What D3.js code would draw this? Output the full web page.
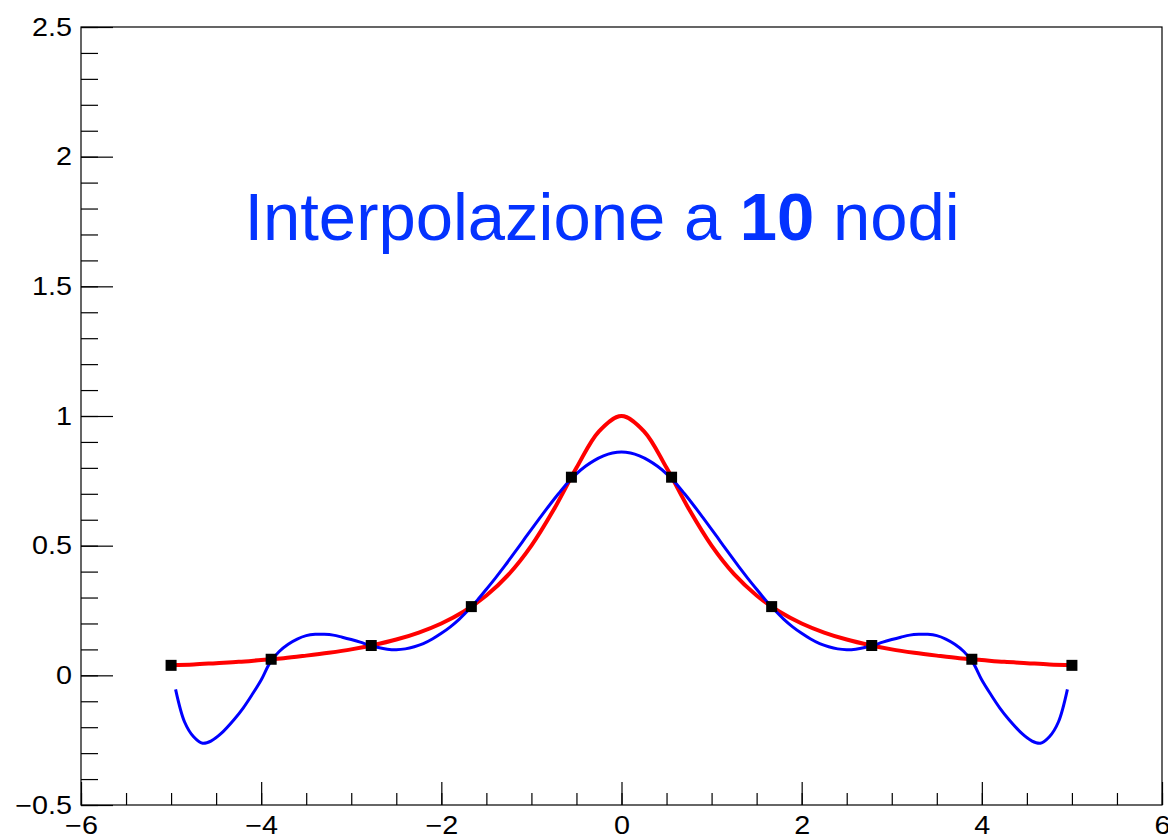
<!DOCTYPE html>
<html>
<head>
<meta charset="utf-8">
<script src="https://cdn.jsdelivr.net/npm/d3@7"></script>
<style>
	body { margin: 0; background: #fff; }
	svg { display: block; }
	.tick text { font-family: "Liberation Sans", Arial, sans-serif; font-size: 25px; fill: #000; }
</style>
</head>
<body>
<script>
// nodes (black squares)
var nodeX = [-5, -3.889, -2.778, -1.667, -0.556, 0.556, 1.667, 2.778, 3.889, 5];
var nodeY = [0.0385, 0.062, 0.115, 0.265, 0.764, 0.764, 0.265, 0.115, 0.062, 0.0385];

// red curve, read every 0.25
var redX = [-5, -4.75, -4.5, -4.25, -4, -3.75, -3.5, -3.25, -3, -2.75, -2.5, -2.25, -2, -1.75, -1.5, -1.25, -1, -0.75, -0.5, -0.25, 0,
	0.25, 0.5, 0.75, 1, 1.25, 1.5, 1.75, 2, 2.25, 2.5, 2.75, 3, 3.25, 3.5, 3.75, 4, 4.25, 4.5, 4.75, 5];
var redY = [0.039, 0.042, 0.047, 0.052, 0.059, 0.066, 0.076, 0.087, 0.100, 0.117, 0.138, 0.165, 0.200, 0.246, 0.308, 0.390, 0.500, 0.640, 0.800, 0.941, 1.000,
	0.941, 0.800, 0.640, 0.500, 0.390, 0.308, 0.246, 0.200, 0.165, 0.138, 0.117, 0.100, 0.087, 0.076, 0.066, 0.059, 0.052, 0.047, 0.042, 0.039];

// blue curve (interpolation); the plot is symmetric
var blueX = [-4.95, -4.85, -4.75, -4.65, -4.55, -4.45, -4.3, -4.2, -4.1, -4.0, -3.9, -3.8, -3.7, -3.6, -3.5, -3.4, -3.3, -3.2, -3.1, -3.0,
	-2.9, -2.8, -2.7, -2.6, -2.5, -2.4, -2.3, -2.2, -2.1, -2.0, -1.9, -1.8, -1.7, -1.6, -1.5, -1.4, -1.3, -1.2, -1.1, -1.0,
	-0.9, -0.8, -0.7, -0.6, -0.5, -0.4, -0.3, -0.2, -0.1, 0,
	0.1, 0.2, 0.3, 0.4, 0.5, 0.6, 0.7, 0.8, 0.9, 1.0, 1.1, 1.2, 1.3, 1.4, 1.5, 1.6, 1.7, 1.8, 1.9, 2.0,
	2.1, 2.2, 2.3, 2.4, 2.5, 2.6, 2.7, 2.8, 2.9, 3.0, 3.1, 3.2, 3.3, 3.4, 3.5, 3.6, 3.7, 3.8, 3.9, 4.0,
	4.1, 4.2, 4.3, 4.45, 4.55, 4.65, 4.75, 4.85, 4.95];
var blueY = [-0.054, -0.18, -0.237, -0.262, -0.252, -0.226, -0.170, -0.126, -0.074, -0.018, 0.050, 0.092, 0.120, 0.140, 0.153, 0.158, 0.158, 0.155, 0.147, 0.138,
	0.128, 0.116, 0.107, 0.101, 0.099, 0.102, 0.110, 0.122, 0.140, 0.162, 0.187, 0.217, 0.252, 0.290, 0.332, 0.375, 0.420, 0.467, 0.515, 0.563,
	0.610, 0.656, 0.700, 0.742, 0.777, 0.806, 0.829, 0.846, 0.857, 0.861,
	0.857, 0.846, 0.829, 0.806, 0.777, 0.742, 0.700, 0.656, 0.610, 0.563, 0.515, 0.467, 0.420, 0.375, 0.332, 0.290, 0.252, 0.217, 0.187, 0.162,
	0.140, 0.122, 0.110, 0.102, 0.099, 0.101, 0.107, 0.116, 0.128, 0.138, 0.147, 0.155, 0.158, 0.158, 0.153, 0.140, 0.120, 0.092, 0.050, -0.018,
	-0.074, -0.126, -0.170, -0.226, -0.252, -0.262, -0.237, -0.18, -0.054];

var xTicks = [-6, -4, -2, 0, 2, 4, 6];
var yTicks = [-0.5, 0, 0.5, 1, 1.5, 2, 2.5];
var titleParts = [{t: "Interpolazione a ", b: false}, {t: "10", b: true}, {t: " nodi", b: false}];

var device = { width: 1168, height: 840 };

var plot = {
	svg: null,
	left: 81, right: 1162, top: 27, bottom: 805,

	init: function () {
		this.svg = d3.select("body").append("svg")
			.attr("width", device.width)
			.attr("height", device.height);

		this.x = d3.scaleLinear().domain([-6, 6]).range([this.left, this.right]);
		this.y = d3.scaleLinear().domain([-0.5, 2.5]).range([this.bottom, this.top]);

		this.axes();
		this.curve(redX, redY, "#ff0000", 4);
		this.curve(blueX, blueY, "#0000ff", 3);
		this.nodes();
		this.title();
	},

	axes: function () {
		var fmt = function (d) { return d3.format("~g")(d); };

		// minor ticks first, majors on top
		this.svg.append("g")
			.attr("transform", "translate(" + this.left + ",0)")
			.call(d3.axisLeft(this.y).tickValues(d3.range(-0.5, 2.51, 0.1)).tickSize(-17).tickFormat(""))
			.call(function (g) { g.select(".domain").remove(); });
		this.svg.append("g")
			.attr("transform", "translate(" + this.left + ",0)")
			.call(d3.axisLeft(this.y).tickValues(yTicks).tickSize(-32).tickPadding(9).tickFormat(fmt))
			.call(function (g) { g.select(".domain").remove(); });

		this.svg.append("g")
			.attr("transform", "translate(0," + this.bottom + ")")
			.call(d3.axisBottom(this.x).tickValues(d3.range(-6, 6.01, 0.5)).tickSize(-12).tickFormat(""))
			.call(function (g) { g.select(".domain").remove(); });
		this.svg.append("g")
			.attr("transform", "translate(0," + this.bottom + ")")
			.call(d3.axisBottom(this.x).tickValues(xTicks).tickSize(-23).tickPadding(11).tickFormat(fmt))
			.call(function (g) { g.select(".domain").remove(); });

		this.svg.selectAll(".tick line").attr("stroke", "#000").attr("stroke-width", 1.2);

		// the labels in the picture are a bit wider than Liberation Sans
		this.svg.selectAll(".tick text").each(function () {
			var len = this.getComputedTextLength();
			if (len > 0) d3.select(this).attr("textLength", len * 1.15).attr("lengthAdjust", "spacingAndGlyphs");
		});

		// frame
		this.svg.append("rect")
			.attr("x", this.left).attr("y", this.top)
			.attr("width", this.right - this.left)
			.attr("height", this.bottom - this.top)
			.attr("fill", "none")
			.attr("stroke", "#000")
			.attr("stroke-width", 1.2);
	},

	curve: function (xs, ys, color, w) {
		var x = this.x, y = this.y;
		var line = d3.line()
			.x(function (d) { return x(d[0]); })
			.y(function (d) { return y(d[1]); })
			.curve(d3.curveCatmullRom);
		this.svg.append("path")
			.datum(d3.zip(xs, ys))
			.attr("d", line)
			.attr("fill", "none")
			.attr("stroke", color)
			.attr("stroke-width", w)
			.attr("stroke-linejoin", "round");
	},

	nodes: function () {
		var x = this.x, y = this.y, s = 11;
		this.svg.selectAll("rect.node")
			.data(d3.zip(nodeX, nodeY))
			.enter().append("rect")
			.attr("class", "node")
			.attr("x", function (d) { return x(d[0]) - s / 2; })
			.attr("y", function (d) { return y(d[1]) - s / 2; })
			.attr("width", s).attr("height", s)
			.attr("fill", "#000");
	},

	title: function () {
		var t = this.svg.append("text")
			.attr("x", 602).attr("y", 240)
			.attr("text-anchor", "middle")
			.attr("font-family", "'Liberation Sans', Arial, sans-serif")
			.attr("font-size", 67)
			.attr("fill", "#0433ff");
		titleParts.forEach(function (p) {
			t.append("tspan").text(p.t).attr("font-weight", p.b ? "bold" : "normal");
		});
	}
};

plot.init();
</script>
</body>
</html>
